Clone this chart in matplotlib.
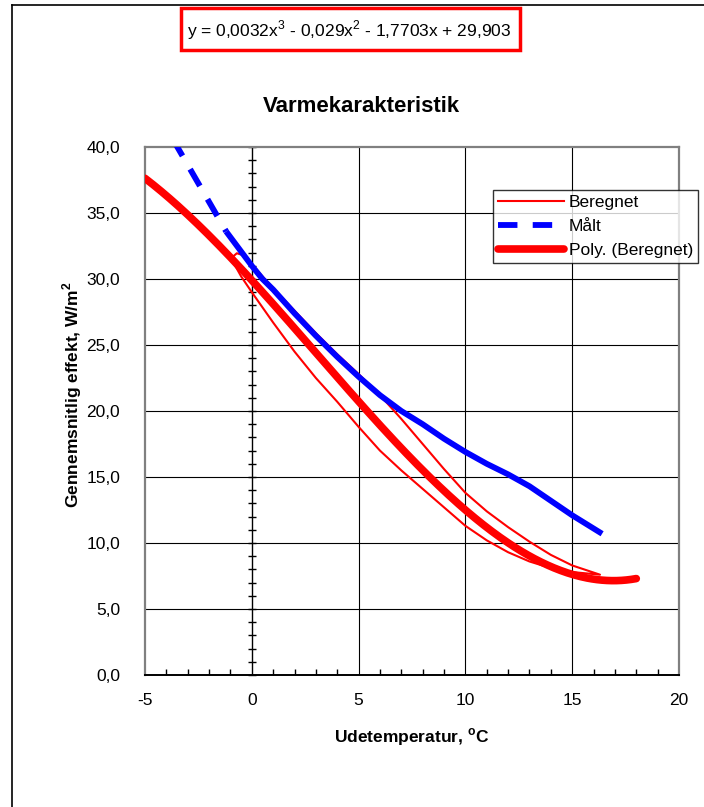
import numpy as np
import matplotlib
matplotlib.use("Agg")
import matplotlib.pyplot as plt
from matplotlib.lines import Line2D
from matplotlib.patches import Rectangle

plt.rcParams['font.family'] = ['Liberation Sans', 'DejaVu Sans']
plt.rcParams['mathtext.fontset'] = 'custom'
plt.rcParams['mathtext.rm'] = 'Liberation Sans'
plt.rcParams['mathtext.bf'] = 'Liberation Sans:bold'
plt.rcParams['lines.scale_dashes'] = False
plt.rcParams['axes.unicode_minus'] = False

W, H = 704, 807

# beregnet effekt - ned om foraaret, op igen om efteraaret
ber_x = [-0.95, -0.5, 0, 1, 2, 3, 4, 5, 6, 7, 8, 9, 10, 11, 12, 13, 14, 15, 16.3,
         15, 14, 13, 12, 11, 10, 9, 8, 7, 6, 5, 4, 3, 2, 1, 0.5, 0, -0.4, -0.7, -0.95]
ber_y = [31.5, 30.2, 29.0, 26.7, 24.5, 22.5, 20.7, 18.8, 17.0, 15.5, 14.1, 12.7, 11.3, 10.2, 9.3, 8.6, 8.1, 7.8, 7.6,
         8.3, 9.1, 10.1, 11.2, 12.4, 13.8, 15.6, 17.5, 19.4, 21.2, 22.8, 24.3, 25.9, 27.6, 29.3, 30.2, 31.1, 31.8, 31.95, 31.6]

# maalt effekt, de foerste (spredte) punkter tegnes stiplet
maalt_x0 = [-3.7, -1.2]
maalt_y0 = [40.6, 33.6]
maalt_x = [-1.2, 0, 0.5, 1, 2, 3, 4, 5, 6, 7, 8, 9, 10, 11, 12, 13, 14, 15, 16, 16.4]
maalt_y = [33.6, 31.0, 30.0, 29.2, 27.4, 25.7, 24.1, 22.6, 21.2, 20.0, 19.0, 17.9, 16.9, 16.0, 15.2, 14.3, 13.2, 12.1, 11.1, 10.7]

# tendenslinje (3. grads polynomium)
poly_coef = [0.0032, -0.029, -1.7703, 29.903]
poly_xmin, poly_xmax = -5, 18

xticks = [-5, 0, 5, 10, 15, 20]
yticks = [0, 5, 10, 15, 20, 25, 30, 35, 40]

fig = plt.figure(figsize=(W / 100, H / 100), dpi=100)
ax = fig.add_axes([145 / W, 132 / H, 534 / W, 528 / H])

# gitter
for xv in xticks[2:-1]:
    ax.axvline(xv, color='black', lw=0.8, zorder=1)
for yv in yticks[1:-1]:
    ax.axhline(yv, color='black', lw=0.8, zorder=1)

# y-aksen ved x=0 med smaa krydsstreger
ax.axvline(0, color='black', lw=1.0, zorder=1)
ax.plot(np.zeros(41), np.arange(41), ls='none', marker='_', ms=5.5, mew=1.0,
        color='black', zorder=2, clip_on=False)

ln_ber, = ax.plot(ber_x, ber_y, color='red', lw=1.5, zorder=3, label='Beregnet')
ln_maalt, = ax.plot(maalt_x0, maalt_y0, color='blue', lw=4.2, dashes=(14, 11),
                    solid_capstyle='butt', dash_capstyle='butt', zorder=4, label='Målt')
ax.plot(maalt_x, maalt_y, color='blue', lw=4.2, solid_capstyle='butt', zorder=4)

px = np.linspace(poly_xmin, poly_xmax, 300)
ln_poly, = ax.plot(px, np.polyval(poly_coef, px), color='red', lw=5.5,
                   solid_capstyle='round', zorder=5, label='Poly. (Beregnet)')

ax.set_xlim(-5, 20)
ax.set_ylim(0, 40)
ax.set_xticks(xticks)
ax.set_xticklabels([str(v) for v in xticks])
ax.set_yticks(yticks)
ax.set_yticklabels([f'{v:.1f}'.replace('.', ',') for v in yticks])
ax.set_xticks(np.arange(-5, 21), minor=True)
ax.tick_params(axis='both', which='major', length=0, labelsize=12.5)
ax.tick_params(axis='y', pad=18)
ax.tick_params(axis='x', pad=13)
ax.tick_params(axis='x', which='minor', direction='in', length=4, width=1, color='black')

for side in ['left', 'right', 'top']:
    ax.spines[side].set_color('#808080')
    ax.spines[side].set_linewidth(1.6)
ax.spines['bottom'].set_color('black')
ax.spines['bottom'].set_linewidth(1.4)

leg = ax.legend(handles=[ln_ber, ln_maalt, ln_poly], loc='upper left',
                bbox_to_anchor=(493 / W, 1 - 190 / H), bbox_transform=fig.transFigure,
                fontsize=12.5, frameon=True, fancybox=False, shadow=False,
                handlelength=3.8, handletextpad=0.25, labelspacing=0.5,
                borderpad=0.3, borderaxespad=0)
leg.get_frame().set_edgecolor('black')
leg.get_frame().set_linewidth(1.0)
leg.set_zorder(10)

fig.text(361 / W, 1 - 107 / H, 'Varmekarakteristik', ha='center', va='center',
         fontsize=16, fontweight='bold')
fig.text(412 / W, 1 - 737 / H, 'Udetemperatur, $^{\\mathregular{o}}$C', ha='center',
         va='center', fontsize=12.5, fontweight='bold')
fig.text(72 / W, 1 - 395 / H, 'Gennemsnitlig effekt, W/m$^{\\mathregular{2}}$', ha='center',
         va='center', fontsize=12.5, fontweight='bold', rotation=90)

# ramme om diagramomraadet
fig.add_artist(Line2D([12 / W, 12 / W], [0, 1 - 5 / H], color='black', lw=1.2,
                      transform=fig.transFigure))
fig.add_artist(Line2D([12 / W, 1], [1 - 5 / H, 1 - 5 / H], color='black', lw=1.2,
                      transform=fig.transFigure))

# ligningen for tendenslinjen
fig.add_artist(Rectangle((181 / W, 1 - 50 / H), 339 / W, 42 / H, facecolor='white',
                         edgecolor='red', lw=2.5, transform=fig.transFigure))
fig.text(349 / W, 1 - 30 / H, 'y = 0,0032x$^3$ - 0,029x$^2$ - 1,7703x + 29,903',
         ha='center', va='center', fontsize=12.5)

fig.savefig('out.png', dpi=100)
